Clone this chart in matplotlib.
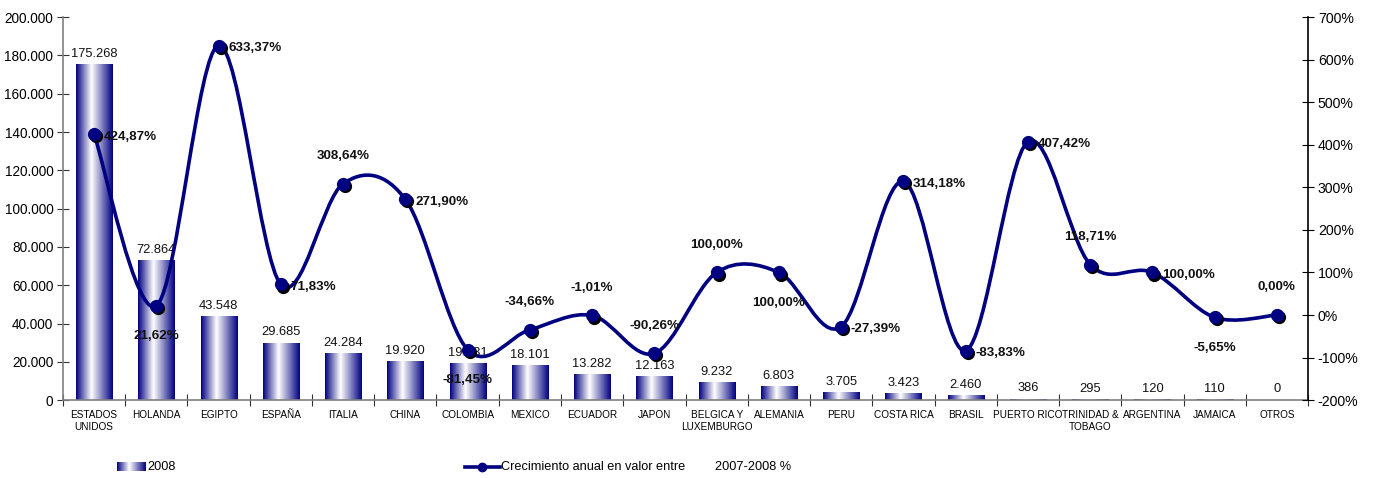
import numpy as np
import matplotlib
matplotlib.use('Agg')
import matplotlib.pyplot as plt
from matplotlib.colors import LinearSegmentedColormap
from matplotlib.path import Path
from matplotlib.patches import PathPatch
from matplotlib.lines import Line2D
from matplotlib.ticker import FuncFormatter, FixedLocator
import matplotlib.transforms as mtransforms

plt.rcParams['font.family'] = ['Liberation Sans', 'DejaVu Sans']

# Datos
paises = ['ESTADOS\nUNIDOS', 'HOLANDA', 'EGIPTO', 'ESPAÑA', 'ITALIA', 'CHINA', 'COLOMBIA',
          'MEXICO', 'ECUADOR', 'JAPON', 'BELGICA Y\nLUXEMBURGO', 'ALEMANIA', 'PERU',
          'COSTA RICA', 'BRASIL', 'PUERTO RICO', 'TRINIDAD &\nTOBAGO', 'ARGENTINA',
          'JAMAICA', 'OTROS']
valor_2008 = [175268, 72864, 43548, 29685, 24284, 19920, 19131, 18101, 13282, 12163,
              9232, 6803, 3705, 3423, 2460, 386, 295, 120, 110, 0]
crecimiento = [424.87, 21.62, 633.37, 71.83, 308.64, 271.90, -81.45, -34.66, -1.01, -90.26,
               100.00, 100.00, -27.39, 314.18, -83.83, 407.42, 118.71, 100.00, -5.65, 0.00]

# posicion de la etiqueta de cada punto: r=derecha, a=arriba, b=abajo
pos_etiqueta = ['r', 'b', 'r', 'r', 'a', 'r', 'b', 'a', 'a', 'a',
                'a', 'b', 'r', 'r', 'r', 'r', 'a', 'r', 'b', 'a']

navy = '#000080'
cmap = LinearSegmentedColormap.from_list('barra', [(0, navy), (0.42, '#ffffff'), (1, navy)])

fig = plt.figure(figsize=(13.75, 4.78), dpi=100)
ax = fig.add_axes([0.0458, 0.163, 0.9055, 0.801])
ax2 = ax.twinx()

x = np.arange(len(paises))
ancho = 0.58
grad = np.linspace(0, 1, 256).reshape(1, -1)
for xi, v in zip(x, valor_2008):
    if v > 0:
        ax.imshow(grad, extent=[xi - ancho / 2, xi + ancho / 2, 0, v], aspect='auto',
                  cmap=cmap, zorder=2, interpolation='bilinear')
    ax.annotate(f'{v:,}'.replace(',', '.'), (xi, v), xytext=(0, 3.5), textcoords='offset points',
                ha='center', va='bottom', fontsize=9.3, color='#111111')

ax.set_xlim(-0.5, len(paises) - 0.5)
ax.set_ylim(0, 200000)
ax.set_yticks(np.arange(0, 200001, 20000))
ax.yaxis.set_major_formatter(FuncFormatter(lambda v, p: f'{int(v):,}'.replace(',', '.')))
ax.xaxis.set_major_locator(FixedLocator(np.arange(-0.5, len(paises), 1.0)))
ax.xaxis.set_major_formatter(FuncFormatter(lambda v, p: ''))
ax.set_xticks(x, minor=True)
ax.set_xticklabels(paises, minor=True, fontsize=7.2)
ax.tick_params(axis='x', which='minor', length=0, pad=7)
ax.tick_params(axis='x', which='major', direction='inout', length=8, color='#333333')
ax.tick_params(axis='y', direction='inout', length=8, labelsize=9.8, color='#333333', pad=3)
for lab in ax.get_xticklabels(minor=True):
    lab.set_linespacing(1.3)

ax.spines['top'].set_visible(False)
ax.spines['right'].set_visible(False)
ax.spines['left'].set_color('#808080')
ax.spines['bottom'].set_color('#808080')
ax.spines['left'].set_linewidth(1.2)
ax.spines['bottom'].set_linewidth(1.2)

# Linea suavizada (Catmull-Rom como curvas Bezier)
ax2.set_ylim(-200, 700)
ax2.set_yticks(np.arange(-200, 701, 100))
ax2.yaxis.set_major_formatter(FuncFormatter(lambda v, p: f'{int(v)}%'))
ax2.tick_params(axis='y', direction='inout', length=8, labelsize=10.2, pad=3)
ax2.spines['top'].set_visible(False)
ax2.spines['left'].set_visible(False)
ax2.spines['bottom'].set_visible(False)
ax2.spines['right'].set_linewidth(1.2)

pts = np.column_stack([x, crecimiento]).astype(float)
verts = [tuple(pts[0])]
codes = [Path.MOVETO]
n = len(pts)
for i in range(n - 1):
    p0 = pts[max(i - 1, 0)]
    p1 = pts[i]
    p2 = pts[i + 1]
    p3 = pts[min(i + 2, n - 1)]
    c1 = p1 + (p2 - p0) / 6
    c2 = p2 - (p3 - p1) / 6
    verts += [tuple(c1), tuple(c2), tuple(p2)]
    codes += [Path.CURVE4] * 3
ax2.add_patch(PathPatch(Path(verts, codes), facecolor='none', edgecolor=navy, lw=2.6, zorder=3))

sombra = mtransforms.offset_copy(ax2.transData, fig=fig, x=1.5, y=-1.5, units='points')
ax2.plot(x, crecimiento, 'o', color='black', ms=8.5, transform=sombra, zorder=4)
ax2.plot(x, crecimiento, 'o', color=navy, ms=8.5, zorder=5)

for xi, c, p in zip(x, crecimiento, pos_etiqueta):
    txt = f'{c:.2f}%'.replace('.', ',')
    if p == 'r':
        kw = dict(xytext=(7, -2), ha='left', va='center')
    elif p == 'a':
        kw = dict(xytext=(0, 20), ha='center', va='center')
    else:
        kw = dict(xytext=(0, -22), ha='center', va='center')
    ax2.annotate(txt, (xi, c), textcoords='offset points', fontsize=9.6,
                 fontweight='bold', color='#111111', zorder=6, **kw)

# Leyenda
kax = fig.add_axes([117 / 1375, 1 - 471 / 478, 29 / 1375, 9 / 478])
kax.imshow(grad, aspect='auto', cmap=cmap, extent=[0, 1, 0, 1])
kax.axis('off')
fig.text(147 / 1375, 1 - 467 / 478, '2008', fontsize=9.2, va='center', ha='left')
fig.add_artist(Line2D([465 / 1375, 500 / 1375], [1 - 467 / 478, 1 - 467 / 478],
                      color=navy, lw=2.6, transform=fig.transFigure))
fig.add_artist(Line2D([482 / 1375], [1 - 467 / 478], marker='o', ms=6, color=navy,
                      transform=fig.transFigure))
fig.text(501 / 1375, 1 - 467 / 478, 'Crecimiento anual en valor entre', fontsize=9.2,
         va='center', ha='left')
fig.text(715 / 1375, 1 - 467 / 478, '2007-2008 %', fontsize=9.2, va='center', ha='left')

fig.savefig('out.png', dpi=100)
